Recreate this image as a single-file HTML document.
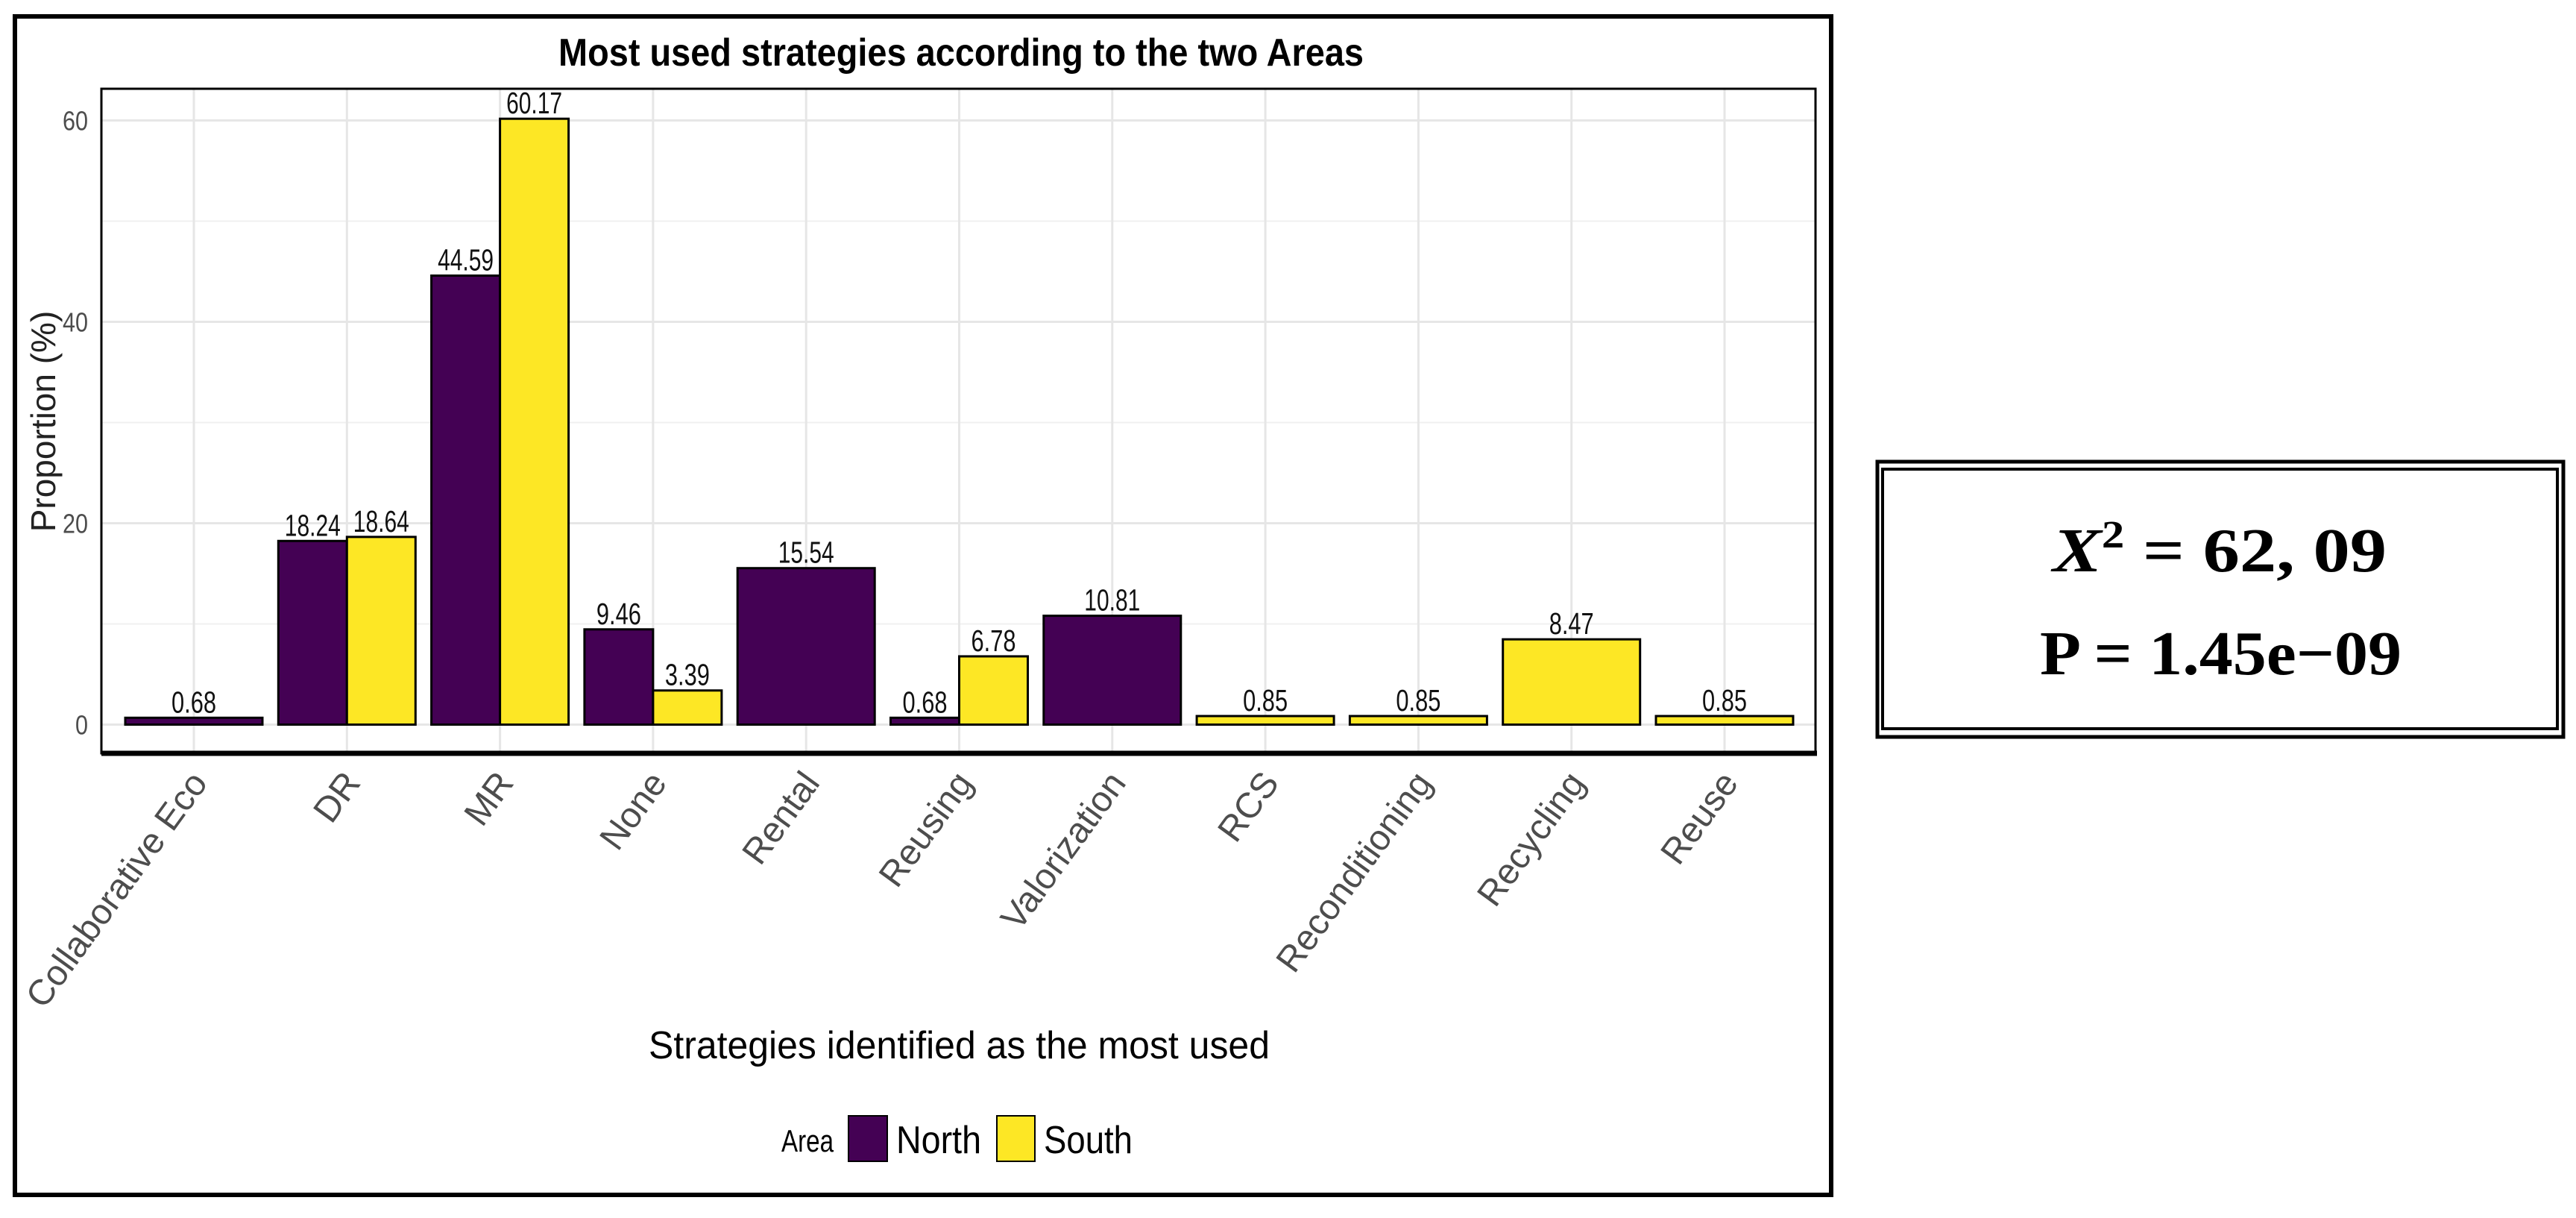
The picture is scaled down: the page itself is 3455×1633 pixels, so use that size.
<!DOCTYPE html>
<html><head><meta charset="utf-8"><style>
html,body{margin:0;padding:0;background:#fff;}
svg{display:block;}
</style></head><body>
<svg id="s" width="3455" height="1633" xmlns="http://www.w3.org/2000/svg">
<rect x="20" y="22" width="2436" height="1580" fill="#fff" stroke="#000" stroke-width="6"/>
<text x="749" y="88" textLength="1080" lengthAdjust="spacingAndGlyphs" font-family="'Liberation Sans',sans-serif" font-weight="bold" font-size="52">Most used strategies according to the two Areas</text>
<g id="grid"></g>
<g id="bars"></g>
<g id="yt"></g>
<g id="xt"></g>
<text transform="translate(74,565) rotate(-90)" text-anchor="middle" font-family="'Liberation Sans',sans-serif" font-size="46" fill="#222">Proportion (%)</text>
<text x="870" y="1419" textLength="833" lengthAdjust="spacingAndGlyphs" font-family="'Liberation Sans',sans-serif" font-size="52" fill="#000">Strategies identified as the most used</text>
<g>
<text x="1048" y="1544" textLength="70" lengthAdjust="spacingAndGlyphs" font-family="'Liberation Sans',sans-serif" font-size="42">Area</text>
<rect x="1138" y="1496" width="52" height="61" fill="#440154" stroke="#000" stroke-width="2"/>
<text x="1202" y="1546" textLength="114" lengthAdjust="spacingAndGlyphs" font-family="'Liberation Sans',sans-serif" font-size="52">North</text>
<rect x="1337" y="1496" width="51" height="61" fill="#fde725" stroke="#000" stroke-width="2"/>
<text x="1400" y="1546" textLength="119" lengthAdjust="spacingAndGlyphs" font-family="'Liberation Sans',sans-serif" font-size="52">South</text>
</g>
<g>
<rect x="2518" y="619" width="920" height="369" fill="#fff" stroke="#000" stroke-width="5"/>
<rect x="2525" y="629" width="905" height="348" fill="none" stroke="#000" stroke-width="4"/>
<text x="2753" y="766" textLength="448" lengthAdjust="spacingAndGlyphs" font-family="'Liberation Serif',serif" font-weight="bold" font-size="84"><tspan font-style="italic">X</tspan><tspan dy="-32" font-size="52">2</tspan><tspan dy="32"> = 62, 09</tspan></text>
<text x="2736" y="904" textLength="485" lengthAdjust="spacingAndGlyphs" font-family="'Liberation Serif',serif" font-weight="bold" font-size="84">P = 1.45e−09</text>
</g>
</svg>
<script>
const categories = ["Collaborative Eco","DR","MR","None","Rental","Reusing","Valorization","RCS","Reconditioning","Recycling","Reuse"];
const northValues = [0.68,18.24,44.59,9.46,15.54,0.68,10.81,null,null,null,null];
const southValues = [null,18.64,60.17,3.39,null,6.78,null,0.85,0.85,8.47,0.85];
const yTicks = [0,20,40,60];
const yMinor = [10,30,50];

const NS="http://www.w3.org/2000/svg";
const L=136,R=2435,T=119,B=1010,ZERO=971.5,PER=13.5,STEP=205.3,X0=260;
function xPos(i){return X0+i*STEP;}
function yPos(v){return ZERO-v*PER;}
function mk(tag,attrs,parent){const e=document.createElementNS(NS,tag);for(const k in attrs)e.setAttribute(k,attrs[k]);parent.appendChild(e);return e;}
const grid=document.getElementById('grid'),bars=document.getElementById('bars'),yt=document.getElementById('yt'),xt=document.getElementById('xt');
mk('rect',{x:L,y:T,width:R-L,height:B-T,fill:'#fff'},grid);
yMinor.forEach(v=>{const l=mk('line',{x1:L,x2:R,y1:yPos(v),y2:yPos(v),stroke:'#f0f0f0','stroke-width':2},grid);

});
yTicks.forEach(v=>{const l=mk('line',{x1:L,x2:R,y1:yPos(v),y2:yPos(v),stroke:'#e6e6e6','stroke-width':3},grid);


const t=mk('text',{x:118,y:yPos(v)+13,'text-anchor':'end','font-family':"'Liberation Sans',sans-serif",'font-size':36,fill:'#4d4d4d',textLength:String(v).length*17,lengthAdjust:'spacingAndGlyphs'},yt);
t.textContent=v;

});
categories.forEach((c,i)=>{const l=mk('line',{x1:xPos(i),x2:xPos(i),y1:T,y2:B,stroke:'#e6e6e6','stroke-width':3},grid);


const x=xPos(i)+20,y=1050;
const t=mk('text',{x:x,y:y,transform:`rotate(-54 ${x} ${y})`,'text-anchor':'end','font-family':"'Liberation Sans',sans-serif",'font-size':48,fill:'#4d4d4d'},xt);
t.textContent=c;

});
const GW=184;
function bar(i,x,w,v,color,name){
 const r=mk('rect',{x:x,y:yPos(v),width:w,height:ZERO-yPos(v),fill:color,stroke:'#000','stroke-width':3},bars);
 
 
 const s=v.toFixed(2);
 const t=mk('text',{x:x+w/2,y:yPos(v)-7,'text-anchor':'middle','font-family':"'Liberation Sans',sans-serif",'font-size':41,fill:'#111',textLength:s.length*15,lengthAdjust:'spacingAndGlyphs'},bars);
 t.textContent=s;
 
 
}
categories.forEach((c,i)=>{
 const n=northValues[i],s=southValues[i],left=xPos(i)-GW/2;
 if(n!=null&&s!=null){bar(i,left,GW/2,n,'#440154','bar-north');bar(i,left+GW/2,GW/2,s,'#fde725','bar-south');}
 else if(n!=null){bar(i,left,GW,n,'#440154','bar-north');}
 else if(s!=null){bar(i,left,GW,s,'#fde725','bar-south');}
});
mk('rect',{x:L,y:T,width:R-L,height:B-T,fill:'none',stroke:'#000','stroke-width':3},bars);
mk('line',{x1:L,x2:R+2,y1:B,y2:B,stroke:'#000','stroke-width':7},bars);
</script>
</body></html>
